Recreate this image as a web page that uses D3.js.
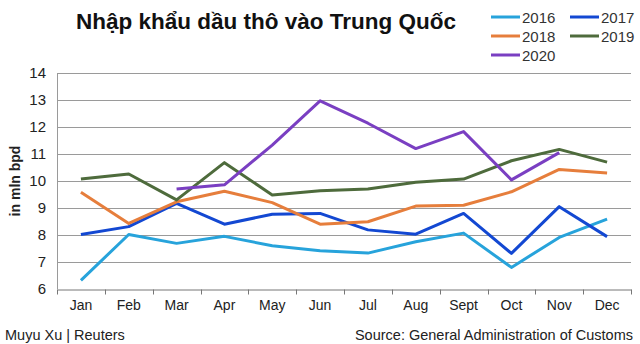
<html>
<head>
  <script src="https://d3js.org/d3.v7.min.js"></script>
  <style>
    body { margin: 0; background: #fff; }
    text { font-family: "Liberation Sans", Arial, sans-serif; }
    .grid line { stroke: #9a9a9a; stroke-width: 1px; }
    .series { fill: none; stroke-width: 3px; stroke-linejoin: round; }
  </style>
</head>
<body>
  <svg id="chart" width="640" height="344"></svg>
  <script>
    const months = ["Jan", "Feb", "Mar", "Apr", "May", "Jun", "Jul", "Aug", "Sept", "Oct", "Nov", "Dec"];
    const yTicks = [6, 7, 8, 9, 10, 11, 12, 13, 14];

    const years = ["2016", "2017", "2018", "2019", "2020"];
    const colors = ["#27a3db", "#1348d2", "#e67e3c", "#4e6b3c", "#7a3fc2"];

    const v2016 = [6.32, 8.02, 7.69, 7.95, 7.6, 7.42, 7.33, 7.75, 8.07, 6.8, 7.91, 8.59];
    const v2017 = [8.02, 8.31, 9.17, 8.4, 8.77, 8.8, 8.19, 8.03, 8.8, 7.32, 9.05, 7.94];
    const v2018 = [9.58, 8.43, 9.23, 9.62, 9.2, 8.4, 8.49, 9.07, 9.1, 9.6, 10.43, 10.3];
    const v2019 = [10.07, 10.26, 9.3, 10.68, 9.48, 9.64, 9.7, 9.95, 10.07, 10.75, 11.17, 10.7];
    const v2020 = [null, null, 9.7, 9.86, 11.33, 12.97, 12.14, 11.2, 11.83, 10.04, 11.05, null];
    const seriesValues = [v2016, v2017, v2018, v2019, v2020];

    const svg = d3.select("#chart");
    const plot = { left: 57, right: 631, top: 73, bottom: 289 };

    const x = d3.scaleBand().domain(months).range([plot.left, plot.right]);
    const y = d3.scaleLinear().domain([6, 14]).range([plot.bottom, plot.top]);

    // gridlines
    svg.append("g").attr("class", "grid")
      .selectAll("line").data(yTicks.filter(d => d > 6))
      .join("line")
      .attr("x1", plot.left).attr("x2", plot.right)
      .attr("y1", d => y(d) + 0.5).attr("y2", d => y(d) + 0.5);

    // left axis line
    svg.append("line")
      .attr("x1", plot.left + 0.5).attr("x2", plot.left + 0.5)
      .attr("y1", plot.top).attr("y2", plot.bottom)
      .attr("stroke", "#9a9a9a");

    // y tick labels
    svg.append("g").selectAll("text").data(yTicks)
      .join("text")
      .attr("x", plot.left - 11)
      .attr("y", d => y(d) + 5)
      .attr("text-anchor", "end")
      .attr("font-size", 15)
      .attr("fill", "#222")
      .text(d => d);

    // x axis
    const xAxis = svg.append("g")
      .attr("transform", `translate(0,${plot.bottom + 0.5})`)
      .call(d3.axisBottom(x).tickSize(0).tickPadding(11));
    xAxis.select(".domain").attr("stroke", "#777");
    xAxis.selectAll("text").attr("font-size", 14).attr("fill", "#222")
      .attr("font-family", "Liberation Sans, Arial, sans-serif");
    // tick marks between months
    xAxis.append("g").selectAll("line")
      .data(months.concat(["end"]))
      .join("line")
      .attr("x1", (d, i) => Math.round(plot.left + i * x.step()) + 0.5)
      .attr("x2", (d, i) => Math.round(plot.left + i * x.step()) + 0.5)
      .attr("y1", 0).attr("y2", 5)
      .attr("stroke", "#777");

    // lines
    const line = d3.line()
      .defined(d => d.v != null)
      .x(d => x(d.m) + x.bandwidth() / 2)
      .y(d => y(d.v));

    svg.append("g").selectAll("path").data(seriesValues)
      .join("path")
      .attr("class", "series")
      .attr("stroke", (d, i) => colors[i])
      .attr("d", d => line(d.map((v, i) => ({ m: months[i], v: v }))));

    // y label
    svg.append("text")
      .attr("transform", "translate(20,181) rotate(-90)")
      .attr("text-anchor", "middle")
      .attr("font-size", 14)
      .attr("font-weight", "bold")
      .attr("fill", "#222")
      .text("in mln bpd");

    // title
    svg.append("text")
      .attr("x", 266).attr("y", 29)
      .attr("text-anchor", "middle")
      .attr("font-size", 22.5)
      .attr("font-weight", "bold")
      .attr("fill", "#111")
      .text("Nhập khẩu dầu thô vào Trung Quốc");

    // legend
    const legend = svg.append("g").selectAll("g").data(years)
      .join("g")
      .attr("transform", (d, i) => `translate(${491 + (i % 2) * 79},${17 + Math.floor(i / 2) * 19})`);
    legend.append("line")
      .attr("x1", 0).attr("x2", 29).attr("y1", 0).attr("y2", 0)
      .attr("stroke", (d, i) => colors[i]).attr("stroke-width", 3);
    legend.append("text")
      .attr("x", 31).attr("y", 5.5)
      .attr("font-size", 15)
      .attr("fill", "#333")
      .text(d => d);

    // footer
    svg.append("text")
      .attr("x", 5).attr("y", 340)
      .attr("font-size", 14.5).attr("fill", "#222")
      .text("Muyu Xu | Reuters");
    svg.append("text")
      .attr("x", 633).attr("y", 340)
      .attr("text-anchor", "end")
      .attr("font-size", 14.5).attr("fill", "#222")
      .text("Source: General Administration of Customs");
  </script>
</body>
</html>
